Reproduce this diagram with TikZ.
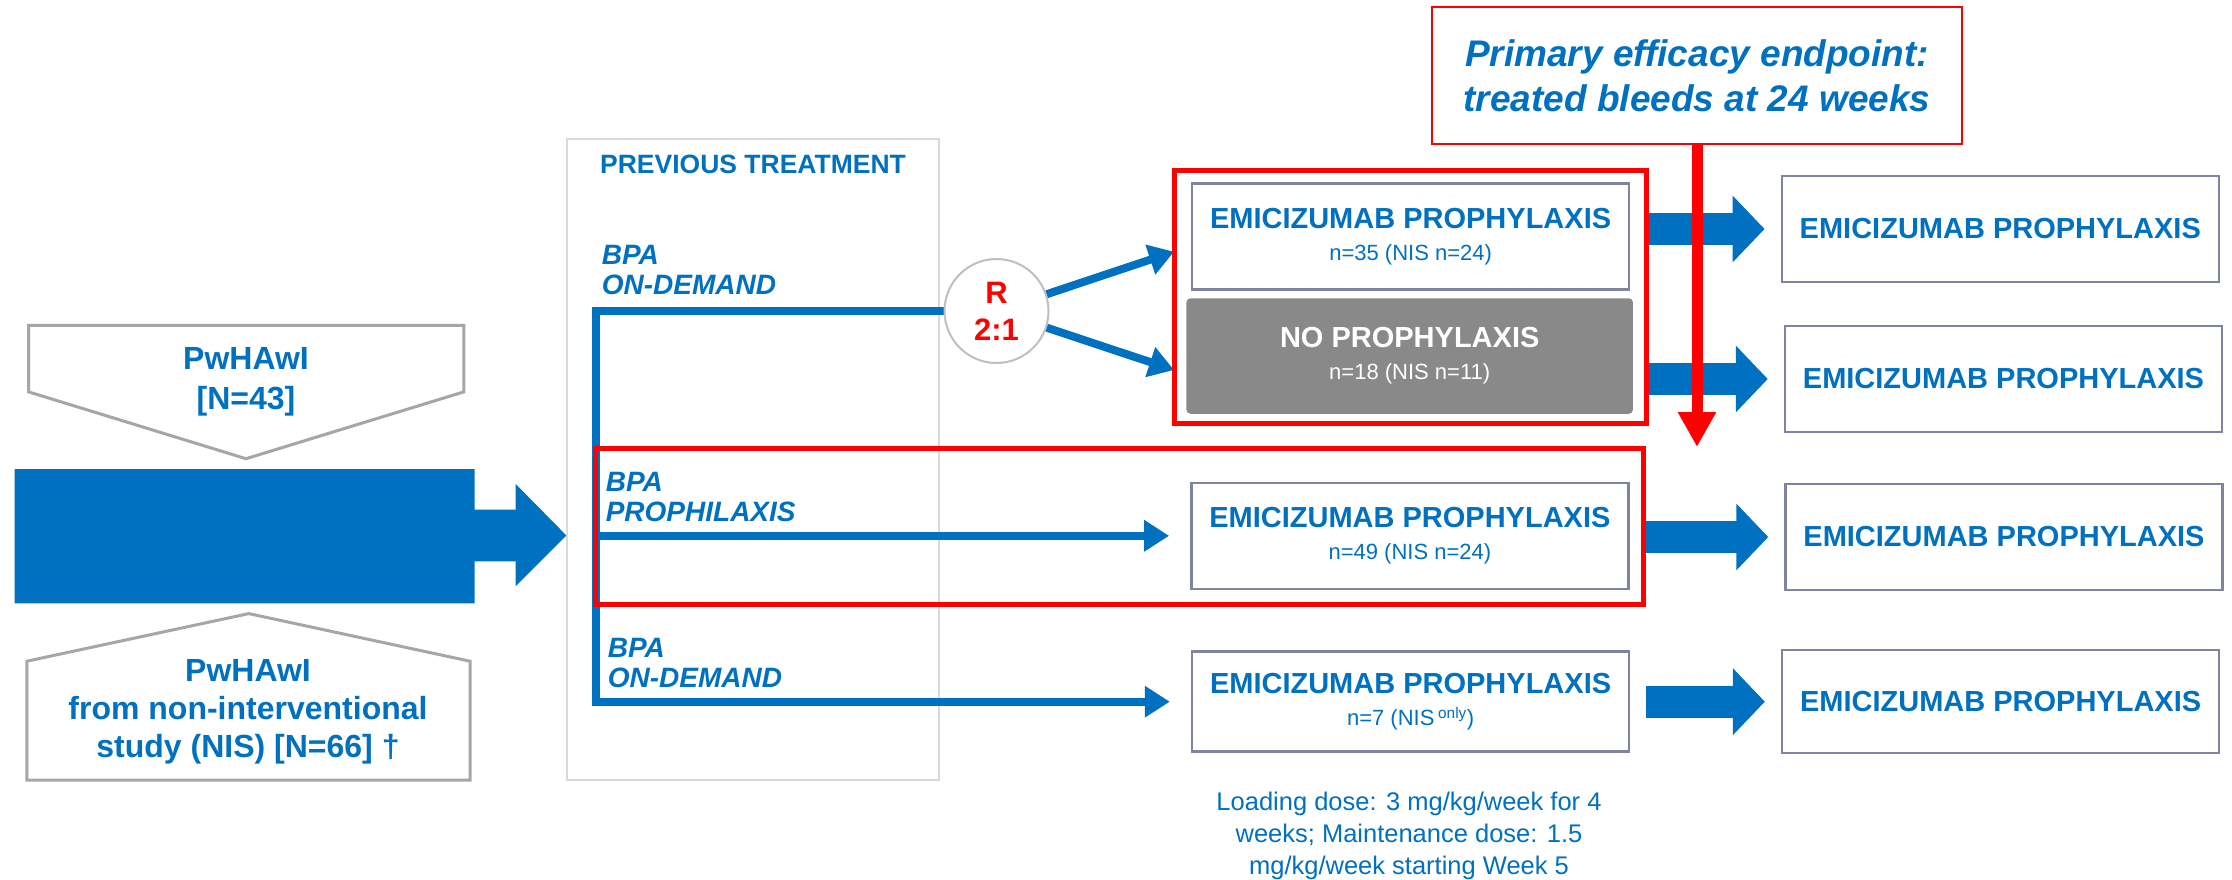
\documentclass[tikz,border=0pt]{standalone}
\usepackage{fontspec}
\setmainfont{Liberation Sans}
\usetikzlibrary{arrows.meta}

\definecolor{pblue}{RGB}{0,112,192}
\definecolor{slate}{RGB}{127,133,160}
\definecolor{boxgray}{RGB}{137,137,137}
\definecolor{pentgray}{RGB}{166,166,166}
\definecolor{framegray}{RGB}{217,217,217}
\definecolor{ringgray}{RGB}{191,191,191}

\newcommand{\subn}[1]{{\fontsize{22}{32}\selectfont\mdseries #1}}

\tikzset{
	emic/.style={draw=slate,line width=2.5pt,fill=white,text=pblue,inner sep=0pt,
		minimum width=437pt,minimum height=106pt,align=center,
		font=\fontsize{29}{32}\selectfont\bfseries},
	redbox/.style={draw=red,line width=5pt,inner sep=0pt},
	bline/.style={pblue,line width=8pt},
	btip/.style={-{Triangle[length=25pt,width=30pt]}},
	fatarr/.style={pblue,line width=32pt,-{Triangle[length=32pt,width=65pt]}},
	bpa/.style={text=pblue,font=\fontsize{28}{30}\selectfont\bfseries\itshape,
		align=left,anchor=west,inner sep=0pt},
	pent/.style={draw=pentgray,line width=3pt,fill=white},
	pentlabel/.style={text=pblue,font=\fontsize{32}{38}\selectfont\bfseries,align=center,inner sep=0pt}
}

\begin{document}
\begin{tikzpicture}[x=1pt,y=-1pt]
	\useasboundingbox (0,0) rectangle (2232,880);
	
	%PATIENT POOLS
	\draw[pent] (28.7,325.4) -- (463.8,325.4) -- (463.8,391.9) -- (246,458.7) -- (28.7,391.9) -- cycle;
	\node[pentlabel,text depth=0pt] (pool) at (246,378) {PwHAwI\\[2pt][N=43]};
	\draw[pent] (26.8,661.2) -- (248.8,613.6) -- (470,661.2) -- (470,780) -- (26.8,780) -- cycle;
	\node[pentlabel] (nispool) at (248,712) {PwHAwI\\from non-interventional\\study (NIS) [N=66] †};
	
	\fill[pblue] (14.5,469) -- (474.5,469) -- (474.5,509.7) -- (515.5,509.7) -- (515.5,483.8)
		-- (566.4,535.5) -- (515.5,586.4) -- (515.5,561.3) -- (474.5,561.3) -- (474.5,603.3)
		-- (14.5,603.3) -- cycle;
	
	%PREVIOUS TREATMENT
	\draw[framegray,line width=2pt] (566.7,139) rectangle (939,780);
	\node[text=pblue,font=\fontsize{26.5}{30}\selectfont\bfseries] (prev) at (753,164) {PREVIOUS TREATMENT};
	
	\node[bpa] (demand) at (601.7,270) {BPA\\ON-DEMAND};
	\node[bpa] (prophy) at (605.6,497.2) {BPA\\PROPHILAXIS};
	\node[bpa] (demandnis) at (607.7,663.3) {BPA\\ON-DEMAND};
	
	%ARMS
	\node[emic] (emic1) at (1410.6,236.6) {EMICIZUMAB PROPHYLAXIS\\\subn{n=35 (NIS n=24)}};
	\node[emic,fill=boxgray,draw=boxgray,text=white,rounded corners=3pt,minimum width=444pt,
		minimum height=113pt] (noprophy) at (1409.7,356) {NO PROPHYLAXIS\\\subn{n=18 (NIS n=11)}};
	\node[emic] (emic3) at (1409.9,535.8) {EMICIZUMAB PROPHYLAXIS\\\subn{n=49 (NIS n=24)}};
	\node[emic,minimum height=100pt] (emic4) at (1410.6,701.7) {EMICIZUMAB PROPHYLAXIS\\\subn{n=7 (NIS\,\textsuperscript{only})}};
	
	\node[text=pblue,font=\fontsize{25.5}{31.7}\selectfont,align=center,inner sep=0pt] (dose) at (1409,836)
		{Loading dose: 3 mg/kg/week for 4\\weeks; Maintenance dose: 1.5\\mg/kg/week starting Week 5};
	
	%LINES
	\coordinate (fork) at (596,311);
	\coordinate (up) at (1174,251.7);
	\coordinate (down) at (1174,370);
	\draw[bline,btip,shorten >=21pt] (1000,311) -- (fork) |- (emic4.west);
	\draw[bline,btip,shorten >=21pt] (fork |- emic3.west) -- (emic3.west);
	
	\node[circle,draw=ringgray,line width=2pt,fill=white,minimum size=104pt,inner sep=0pt,
		text=red,align=center,font=\fontsize{31}{37}\selectfont\bfseries] (rand) at (996.5,311) {R\\2:1};
	\draw[bline,btip] (rand) -- (up);
	\draw[bline,btip] (rand) -- (down);
	
	%RED FRAMES
	\node[redbox,minimum width=472.5pt,minimum height=252.6pt] (rbox1) at (1410.25,297) {};
	\node[redbox,minimum width=1048.8pt,minimum height=155.7pt] (rbox2) at (1119.4,526.2) {};
	
	%FOLLOW-UP
	\node[emic] (r1) at (2000.3,229) {EMICIZUMAB PROPHYLAXIS};
	\node[emic] (r2) at (2003.5,379) {EMICIZUMAB PROPHYLAXIS};
	\node[emic] (r3) at (2004,537) {EMICIZUMAB PROPHYLAXIS};
	\node[emic,minimum height=103pt] (r4) at (2000.6,701.7) {EMICIZUMAB PROPHYLAXIS};
	
	\draw[fatarr,shorten >=16pt] (rbox1.east |- r1.west) -- (r1.west);
	\draw[fatarr,shorten >=16pt] (rbox1.east |- r2.west) -- (r2.west);
	\draw[fatarr,shorten >=16pt] (rbox2.east |- r3.west) -- (r3.west);
	\draw[fatarr,shorten >=16pt] ([xshift=16pt]emic4.east) -- (r4.west);
	
	%ENDPOINT
	\node[draw=red,line width=2.5pt,fill=white,minimum width=530pt,minimum height=137pt,inner sep=0pt,
		align=center,text=pblue,font=\fontsize{37}{45}\selectfont\bfseries\itshape] (endp) at (1697,75.6)
		{Primary efficacy endpoint:\\treated bleeds at 24 weeks};
	\coordinate (endtip) at (1697,447);
	\draw[red,line width=11pt,-{Triangle[length=35pt,width=36pt]}] (endp.south) -- (endtip);
\end{tikzpicture}
\end{document}
